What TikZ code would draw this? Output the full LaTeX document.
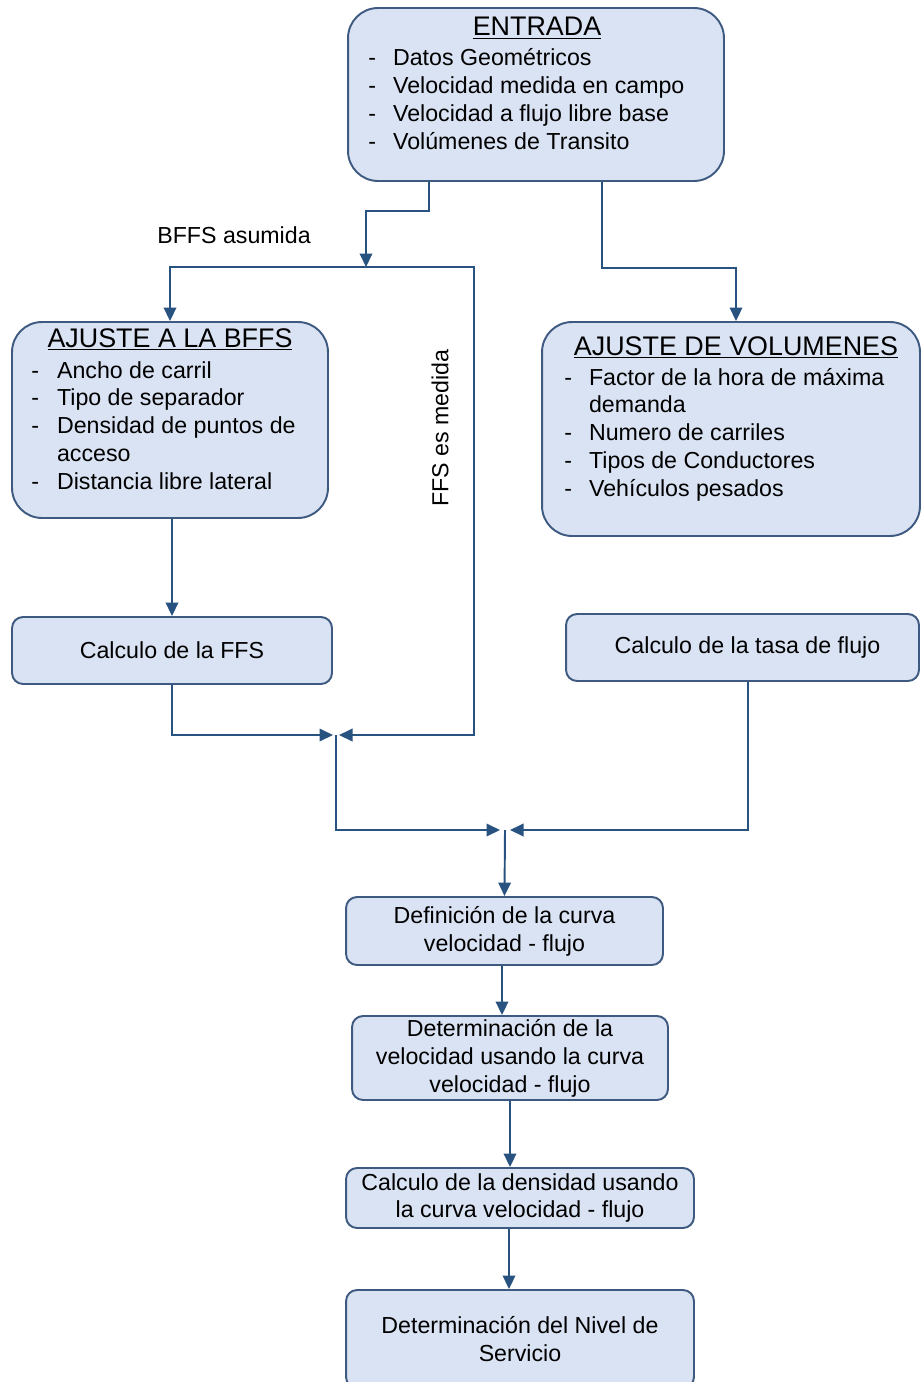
\documentclass[tikz,border=0pt]{standalone}
\usepackage{fontspec}
\setmainfont{Liberation Sans}
\usetikzlibrary{arrows.meta}
\definecolor{boxfill}{RGB}{218,227,243}
\definecolor{boxline}{RGB}{62,90,128}
\definecolor{flowline}{RGB}{40,82,128}
\tikzstyle{bigbox}   = [rectangle, draw=boxline, fill=boxfill, rounded corners=0.6cm, line width=1.1pt, inner sep=0pt]
\tikzstyle{smallbox} = [rectangle, draw=boxline, fill=boxfill, rounded corners=0.22cm, line width=1.1pt, inner sep=0pt, align=center]
\tikzstyle{boxtitle} = [font=\fontsize{15.3}{18}\selectfont, inner sep=0pt, anchor=base]
\tikzstyle{boxlist}  = [inner sep=0pt, anchor=base west]
\tikzstyle{flow}     = [draw=flowline, line width=1.1pt, -{Triangle[length=0.27cm,width=0.25cm]}]

\begin{document}
\begin{tikzpicture}[x=0.02cm, y=-0.02cm, font=\fontsize{13.2}{15.9}\selectfont]
            \useasboundingbox (0,0) rectangle (921,1382);
            \clip (0,0) rectangle (921,1382);

            \node[bigbox, minimum width=7.52cm, minimum height=3.46cm] (entrada) at (536,94.5) {};
            \node[boxtitle] (entradatitle) at (537,36) {\underline{ENTRADA}};
            \node[boxlist] (entradalist) at (368,66) {\begin{tabular}[t]{@{}l@{\hspace{0.34cm}}l@{}}
                - & Datos Geométricos\\
                - & Velocidad medida en campo\\
                - & Velocidad a flujo libre base\\
                - & Volúmenes de Transito
            \end{tabular}};

            \node[bigbox, minimum width=6.32cm, minimum height=3.92cm] (bffs) at (170,420) {};
            \node[boxtitle] (bffstitle) at (170,347) {\underline{AJUSTE A LA BFFS}};
            \node[boxlist] (bffslist) at (31,378) {\begin{tabular}[t]{@{}l@{\hspace{0.36cm}}l@{}}
                - & Ancho de carril\\
                - & Tipo de separador\\
                - & Densidad de puntos de\\
                  & acceso\\
                - & Distancia libre lateral
            \end{tabular}};

            \node[bigbox, minimum width=7.56cm, minimum height=4.28cm] (volumenes) at (731,429) {};
            \node[boxtitle] (volumenestitle) at (736,355) {\underline{AJUSTE DE VOLUMENES}};
            \node[boxlist] (volumeneslist) at (564,385) {\begin{tabular}[t]{@{}l@{\hspace{0.34cm}}l@{}}
                - & Factor de la hora de máxima\\
                  & demanda\\
                - & Numero de carriles\\
                - & Tipos de Conductores\\
                - & Vehículos pesados
            \end{tabular}};

            \node[smallbox, minimum width=6.4cm, minimum height=1.34cm] (ffs) at (172,650.5) {Calculo de la FFS};
            \node[smallbox, minimum width=7.06cm, minimum height=1.34cm] (tasa) at (742.5,647.5) {\hspace{0.2cm}Calculo de la tasa de flujo};
            \node[smallbox, minimum width=6.34cm, minimum height=1.36cm] (curva) at (504.5,931) {Definición de la curva\\velocidad - flujo};
            \node[smallbox, minimum width=6.32cm, minimum height=1.68cm] (velocidad) at (510,1058) {Determinación de la\\velocidad usando la curva\\velocidad - flujo};
            \node[smallbox, minimum width=6.96cm, minimum height=1.2cm] (densidad) at (520,1198) {Calculo de la densidad usando\\la curva velocidad - flujo};
            \node[smallbox, minimum width=6.96cm, minimum height=1.96cm] (nivel) at (520,1339) {Determinación del Nivel de\\Servicio};

            \node (asumida) at (234,235) {BFFS asumida};
            \node[rotate=90] (medida) at (440,428) {FFS es medida};

            \coordinate (split) at (366,267);
            \coordinate (busend) at (474,267);
            \coordinate (join) at (336,735);
            \coordinate (merge) at (505,830);

            \draw[flow] ([xshift=-2.14cm]entrada.south) -- ++(0,29) -| (split);
            \draw[flow] (split) -| (bffs.north);
            \draw[flow, shorten >=0.06cm] (split) -- (busend) |- (join);
            \draw[flow] ([xshift=1.32cm]entrada.south) -- ++(0,86) -| ([xshift=0.1cm]volumenes.north);
            \draw[flow] (bffs.south -| ffs.north) -- (ffs.north);
            \draw[flow, shorten >=0.06cm] (ffs.south) |- (join);
            \draw[flow, shorten >=0.1cm] (join) |- (merge);
            \draw[flow, shorten >=0.1cm] ([xshift=0.11cm]tasa.south) |- (merge);
            \draw[flow] (merge) -- (curva.north);
            \draw[flow] ([xshift=-0.05cm]curva.south) -- ([xshift=-0.05cm]curva.south |- velocidad.north);
            \draw[flow] (velocidad.south) -- (velocidad.south |- densidad.north);
            \draw[flow] ([xshift=-0.22cm]densidad.south) -- ([xshift=-0.22cm]densidad.south |- nivel.north);
        \end{tikzpicture}
\end{document}
